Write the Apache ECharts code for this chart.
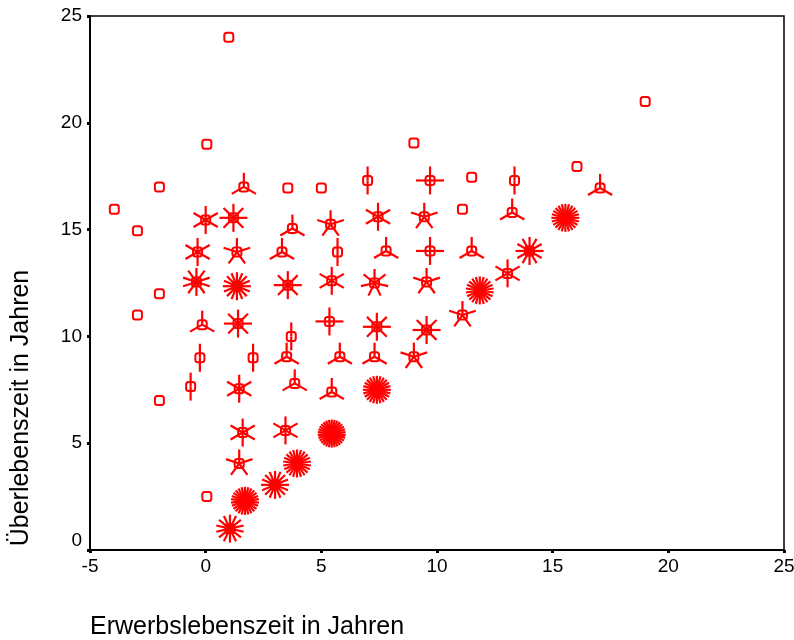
<!DOCTYPE html>
<html>
<head>
<meta charset="utf-8">
<script src="https://cdn.jsdelivr.net/npm/echarts@6/dist/echarts.min.js"></script>
<style>
html,body{margin:0;padding:0;background:#fff;}
#c{width:794px;height:640px;}
</style>
</head>
<body>
<div id="c"></div>
<script>
// Sunflower plot data: bin position (x, y) and number of cases (petals)
const xValues = [1.0, 19.0, 0.05, 9.0, -2.0, 1.65, 3.55, 5.0, 7.0, 9.7, 11.5, 13.35, 16.05, 17.05,
  -3.95, -2.95, 0.0, 1.2, 3.75, 5.4, 7.45, 9.45, 11.1, 13.25, 15.55,
  -0.35, 1.35, 3.3, 5.7, 7.8, 9.7, 11.5, 14.0, 13.05,
  -0.4, 1.35, 3.55, 5.45, 7.3, 9.55, 11.85, -2.0, -2.95,
  -0.15, 1.4, 3.7, 5.35, 7.4, 9.55, 11.1,
  -0.25, 2.05, 3.5, 5.8, 7.3, 9.0,
  -0.65, -2.0, 1.45, 3.85, 5.45, 7.4,
  1.6, 3.45, 5.45, 1.45, 3.95, 0.05, 1.7, 3.0, 1.05];
const yValues = [24.0, 21.0, 19.0, 19.05, 17.0, 17.0, 16.95, 16.95, 17.3, 17.3, 17.45, 17.3, 17.95, 16.95,
  15.95, 14.95, 15.45, 15.55, 15.05, 15.25, 15.6, 15.6, 15.95, 15.8, 15.55,
  13.95, 13.95, 13.95, 13.95, 14.0, 14.0, 14.0, 14.0, 12.95,
  12.55, 12.35, 12.4, 12.6, 12.5, 12.55, 12.15, 12.0, 11.0,
  10.55, 10.6, 10.0, 10.7, 10.45, 10.3, 11.0,
  9.0, 9.0, 9.05, 9.05, 9.05, 9.05,
  7.65, 7.0, 7.55, 7.8, 7.4, 7.5,
  5.5, 5.6, 5.45, 4.05, 4.05, 2.5, 2.3, 3.05, 1.0];
const counts = [1, 1, 1, 1, 1, 3, 1, 1, 2, 4, 1, 2, 1, 3,
  1, 1, 6, 8, 3, 5, 6, 5, 1, 3, 24,
  6, 5, 3, 2, 3, 4, 3, 12, 6,
  10, 16, 8, 6, 7, 5, 22, 1, 1,
  3, 8, 2, 4, 8, 8, 5,
  2, 2, 3, 3, 3, 5,
  2, 1, 6, 3, 3, 24,
  6, 6, 30, 5, 22, 1, 26, 16, 14];
const xTicks = [-5, 0, 5, 10, 15, 20, 25];
const yTicks = [0, 5, 10, 15, 20, 25];
const xTitle = 'Erwerbslebenszeit in Jahren';
const yTitle = 'Überlebenszeit in Jahren';

const data = xValues.map((x, i) => [x, yValues[i], counts[i]]);
const RED = '#ff0000';
const FONT = '"Liberation Sans", Arial, sans-serif';

function renderItem(params, api) {
  const c = api.coord([api.value(0), api.value(1)]);
  const n = api.value(2);
  const L = 14;
  const children = [{
    type: 'rect',
    shape: { x: c[0] - 4.5, y: c[1] - 4.5, width: 9, height: 9, r: 2.5 },
    style: { fill: 'none', stroke: RED, lineWidth: 2 }
  }];
  if (n >= 2) {
    for (let i = 0; i < n; i++) {
      const a = Math.PI / 2 + 2 * Math.PI * i / n;
      children.push({
        type: 'line',
        shape: { x1: c[0], y1: c[1], x2: c[0] + L * Math.cos(a), y2: c[1] - L * Math.sin(a) },
        style: { stroke: RED, lineWidth: 2.2 }
      });
    }
  }
  return { type: 'group', children: children };
}

const chart = echarts.init(document.getElementById('c'), null, { renderer: 'canvas' });
chart.setOption({
  backgroundColor: '#ffffff',
  animation: false,
  grid: { left: 90, right: 10, top: 16, bottom: 90, outerBoundsMode: 'none', containLabel: false, show: true, borderColor: '#000', borderWidth: 1.5, backgroundColor: 'transparent' },
  xAxis: {
    type: 'value', min: xTicks[0], max: xTicks[xTicks.length - 1], interval: 5,
    splitLine: { show: false },
    axisLine: { show: true, onZero: false, lineStyle: { color: '#000', width: 2 } },
    axisTick: { show: true, inside: false, length: 3, lineStyle: { color: '#000', width: 3 } },
    axisLabel: { color: '#000', fontSize: 19, fontFamily: FONT, margin: 7, showMinLabel: true, showMaxLabel: true }
  },
  yAxis: {
    type: 'value', min: yTicks[0], max: yTicks[yTicks.length - 1], interval: 5,
    splitLine: { show: false },
    axisLine: { show: true, onZero: false, lineStyle: { color: '#000', width: 2 } },
    axisTick: { show: true, inside: false, length: 3, lineStyle: { color: '#000', width: 3 } },
    axisLabel: {
      color: '#000', fontSize: 19, fontFamily: FONT, margin: 8, showMinLabel: true, showMaxLabel: true,
      formatter: function (v) { return v === 0 ? '{z|0}' : String(v); },
      rich: { z: { color: '#000', fontSize: 19, fontFamily: FONT, padding: [0, 0, 18, 0] } }
    }
  },
  graphic: [
    { type: 'text', left: 90, top: 615, style: { text: xTitle, fill: '#000', font: '25px ' + FONT } },
    { type: 'text', x: 21, y: 408, rotation: Math.PI / 2, style: { text: yTitle, fill: '#000', font: '25px ' + FONT, align: 'center', verticalAlign: 'middle' } }
  ],
  series: [{
    type: 'custom',
    renderItem: renderItem,
    data: data,
    encode: { x: 0, y: 1 },
    clip: false,
    z: 5
  }]
});
</script>
</body>
</html>
